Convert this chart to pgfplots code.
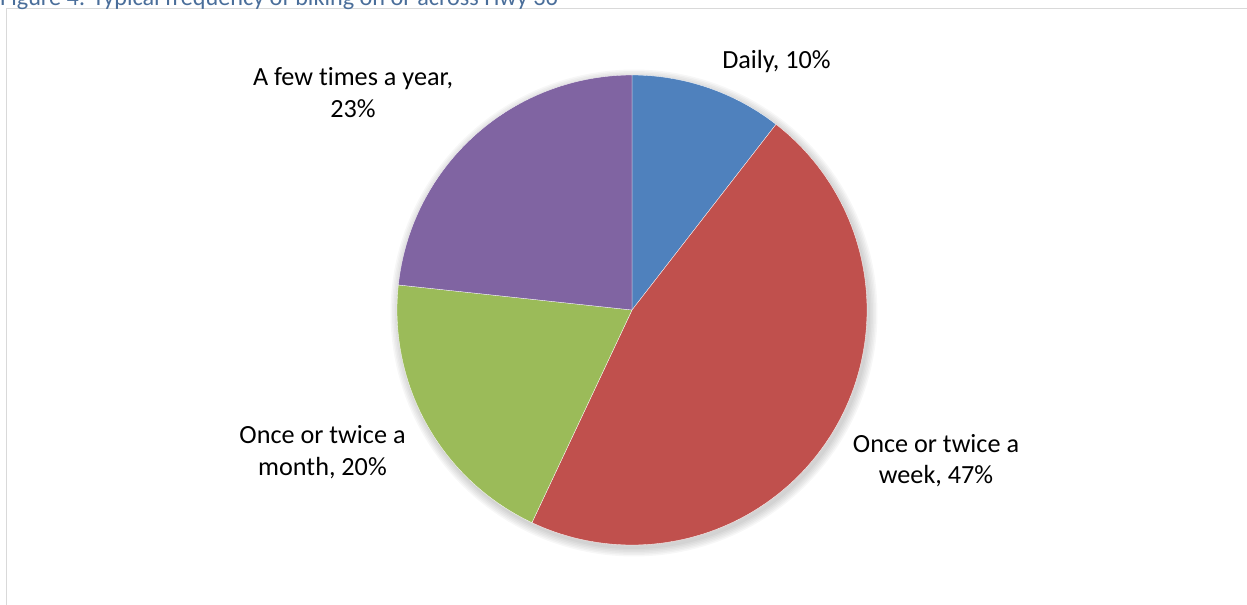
\documentclass[border=0pt]{standalone}
\usepackage{pgfplots}
\pgfplotsset{compat=1.18}
\usepackage{pgfplotstable}
\usepackage{fontspec}
\setmainfont{Carlito}[Ligatures=NoCommon]
\definecolor{cDaily}{HTML}{4F81BD}
\definecolor{cWeek}{HTML}{C0504D}
\definecolor{cMonth}{HTML}{9BBB59}
\definecolor{cYear}{HTML}{8064A2}
\definecolor{titleblue}{HTML}{4A6E9A}
\definecolor{framegray}{HTML}{D9D9D9}
\tikzset{lbl/.style={anchor=base, font=\fontsize{26.3}{31.6}\selectfont, text=black}}
\pgfplotstableread{
cat value
Daily 10.5
Week 46.5
Month 19.7
Year 23.3
}\piedata
\begin{document}
\begin{tikzpicture}
\pgfplotstablegetelem{0}{value}\of\piedata \pgfmathsetmacro{\eA}{3.6*\pgfplotsretval}
\pgfplotstablegetelem{1}{value}\of\piedata \pgfmathsetmacro{\eB}{\eA+3.6*\pgfplotsretval}
\pgfplotstablegetelem{2}{value}\of\piedata \pgfmathsetmacro{\eC}{\eB+3.6*\pgfplotsretval}
\pgfplotstablegetelem{3}{value}\of\piedata \pgfmathsetmacro{\eD}{\eC+3.6*\pgfplotsretval}
\begin{axis}[
  scale only axis, width=1247bp, height=605bp,
  xmin=0, xmax=1247, ymin=0, ymax=605, y dir=reverse,
  hide axis, clip=false,
]
% frame
\draw[framegray, line width=1.5bp] (axis cs:6.5,640) -- (axis cs:6.5,8.5) -- (axis cs:1280,8.5);
% title (cut off at top)
\node[anchor=base west, inner sep=0pt, text=titleblue, font=\fontsize{24.3}{29}\selectfont] at (axis cs:0,6) {Figure 4: Typical frequency of biking on or across Hwy 36};
% soft shadow
\foreach \r in {236,237.5,239,240.5,242,243.5}{
  \addplot[draw=none, fill=black, fill opacity=0.03, domain=0:360, samples=180, variable=\t] ({634+\r*sin(\t)},{313-\r*cos(\t)}) -- cycle;
}
% slices
\addplot[fill=cDaily, draw=white, line width=0.3pt, domain=0:\eA, samples=60, variable=\t] ({632+235*sin(\t)},{310-235*cos(\t)}) -- (axis cs:632,310) -- cycle;
\addplot[fill=cWeek, draw=white, line width=0.3pt, domain=\eA:\eB, samples=150, variable=\t] ({632+235*sin(\t)},{310-235*cos(\t)}) -- (axis cs:632,310) -- cycle;
\addplot[fill=cMonth, draw=white, line width=0.3pt, domain=\eB:\eC, samples=80, variable=\t] ({632+235*sin(\t)},{310-235*cos(\t)}) -- (axis cs:632,310) -- cycle;
\addplot[fill=cYear, draw=white, line width=0.3pt, domain=\eC:\eD, samples=90, variable=\t] ({632+235*sin(\t)},{310-235*cos(\t)}) -- (axis cs:632,310) -- cycle;
% labels
\node[lbl] at (axis cs:776.5,68) {Daily, 10\%};
\node[lbl] at (axis cs:936,452) {Once or twice a};
\node[lbl] at (axis cs:936,483) {week, 47\%};
\node[lbl] at (axis cs:322.5,443) {Once or twice a};
\node[lbl] at (axis cs:322.5,475) {month, 20\%};
\node[lbl] at (axis cs:353,85) {A few times a year,};
\node[lbl] at (axis cs:353,117) {23\%};
\coordinate (BL) at (axis cs:0,605);
\coordinate (TR) at (axis cs:1247,0);
\end{axis}
\pgfresetboundingbox
\path[use as bounding box] (BL) rectangle (TR);
\end{tikzpicture}
\end{document}
